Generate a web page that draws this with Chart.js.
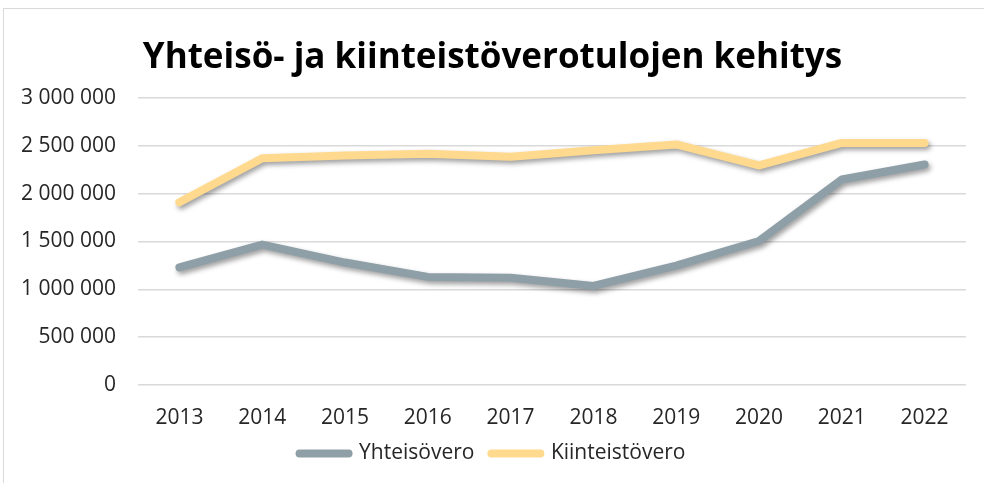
<!DOCTYPE html>
<html lang="fi">
<head>
<meta charset="utf-8">
<title>Yhteisö- ja kiinteistöverotulojen kehitys</title>
<script src="https://cdn.jsdelivr.net/npm/chart.js@4/dist/chart.umd.min.js"></script>
<style>
    html, body { margin: 0; padding: 0; background: #ffffff; }
    #wrap { position: relative; width: 984px; height: 483px; }
</style>
</head>
<body>
<div id="wrap"><canvas id="taxChart"></canvas></div>
<script>
    'use strict';

    // --- data ---
    const years = ['2013', '2014', '2015', '2016', '2017', '2018', '2019', '2020', '2021', '2022'];
    const yhteisovero = [1230000, 1468000, 1280000, 1130000, 1120000, 1035000, 1248000, 1505000, 2148000, 2305000];
    const kiinteistovero = [1910000, 2370000, 2400000, 2418000, 2385000, 2455000, 2515000, 2295000, 2530000, 2530000];
    const yTicks = [0, 500000, 1000000, 1500000, 2000000, 2500000, 3000000];

    const FONT = "'Open Sans', 'Noto Sans', sans-serif";
    const TEXT = '#262626';

    function _fmt(v) {
        return String(v).replace(/\B(?=(\d{3})+(?!\d))/g, ' ');
    }

    // soft drop shadow under the data lines only
    const lineShadow = {
        id: 'lineShadow',
        beforeDatasetsDraw(chart) {
            const ctx = chart.ctx;
            ctx.save();
            ctx.shadowColor = 'rgba(0, 0, 0, 0.38)';
            ctx.shadowBlur = 5;
            ctx.shadowOffsetX = 2;
            ctx.shadowOffsetY = 3;
        },
        afterDatasetsDraw(chart) {
            chart.ctx.restore();
        }
    };

    // thin frame round the chart, cut off at the right and bottom like the original
    const frame = {
        id: 'frame',
        beforeDraw(chart) {
            const ctx = chart.ctx;
            ctx.save();
            ctx.strokeStyle = '#d9d9d9';
            ctx.lineWidth = 1;
            ctx.strokeRect(3.5, 8.5, 1000, 500);
            ctx.restore();
        }
    };

    new Chart(document.getElementById('taxChart').getContext('2d'), {
        type: 'line',
        data: {
            labels: years,
            datasets: [
                {
                    label: 'Yhteisövero',
                    data: yhteisovero,
                    borderColor: '#8f9fa7',
                    backgroundColor: '#8f9fa7',
                    borderWidth: 8,
                    borderCapStyle: 'round',
                    borderJoinStyle: 'round',
                    pointRadius: 0,
                    tension: 0
                },
                {
                    label: 'Kiinteistövero',
                    data: kiinteistovero,
                    borderColor: '#ffda8e',
                    backgroundColor: '#ffda8e',
                    borderWidth: 8,
                    borderCapStyle: 'round',
                    borderJoinStyle: 'round',
                    pointRadius: 0,
                    tension: 0
                }
            ]
        },
        options: {
            responsive: true,
            maintainAspectRatio: false,
            animation: false,
            layout: { padding: { left: 19, right: 18, top: 0, bottom: 9 } },
            plugins: {
                title: {
                    display: true,
                    text: 'Yhteisö- ja kiinteistöverotulojen kehitys',
                    color: '#000000',
                    font: { family: FONT, size: 35, weight: 'bold' },
                    padding: { top: 37, bottom: 19 }
                },
                legend: {
                    display: true,
                    position: 'bottom',
                    labels: {
                        color: TEXT,
                        font: { family: FONT, size: 21 },
                        usePointStyle: true,
                        pointStyle: 'line',
                        pointStyleWidth: 49,
                        padding: 17,
                        generateLabels(chart) {
                            const items = Chart.defaults.plugins.legend.labels.generateLabels(chart);
                            return items.map(it => Object.assign(it, { lineCap: 'round', lineWidth: 8 }));
                        }
                    }
                },
                tooltip: { enabled: false }
            },
            scales: {
                x: {
                    offset: true,
                    afterFit(scale) { scale.height = 41; },
                    grid: { display: false, drawTicks: false },
                    border: { display: false },
                    ticks: {
                        color: TEXT,
                        font: { family: FONT, size: 21 },
                        padding: 20,
                        maxRotation: 0
                    }
                },
                y: {
                    min: 0,
                    max: 3000000,
                    afterFit(scale) { scale.width = 119; },
                    afterBuildTicks(scale) { scale.ticks = yTicks.map(v => ({ value: v })); },
                    grid: { color: '#d9d9d9', lineWidth: 1.5, drawTicks: false },
                    border: { display: false },
                    ticks: {
                        color: TEXT,
                        font: { family: FONT, size: 21 },
                        padding: 22,
                        callback: (v) => _fmt(v)
                    }
                }
            }
        },
        plugins: [frame, lineShadow]
    });
</script>
</body>
</html>
